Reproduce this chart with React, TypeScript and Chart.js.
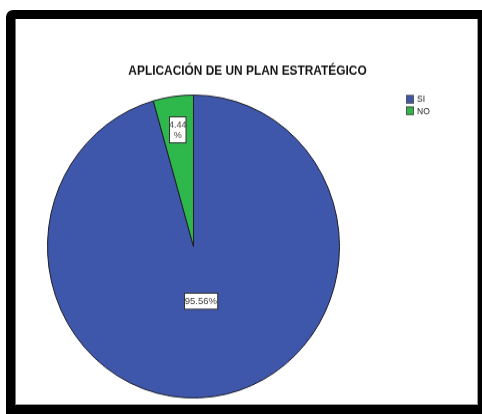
import React, { useEffect, useRef } from "react";
import { Chart, registerables } from "chart.js";

Chart.register(...registerables);

const categories = ["SI", "NO"];
const percentages = [95.56, 4.44];
const sliceColors = ["#3E57AB", "#2EB84B"];
const titleText = "APLICACIÓN DE UN PLAN ESTRATÉGICO";

const W = 482;
const H = 414;
const CY = 246.5;
const SY = 1.0375;
const pre = (y: number) => CY + (y - CY) / SY;

const overlayPlugin = {
  id: "overlay",
  afterDraw(chart: any) {
    const ctx = chart.ctx;
    ctx.save();
    // title
    ctx.font = "bold 11.9px 'Liberation Sans', Arial, sans-serif";
    ctx.fillStyle = "#111";
    ctx.textAlign = "center";
    ctx.textBaseline = "middle";
    ctx.fillText(titleText, 247.5, pre(71));

    // legend
    ctx.font = "8.5px 'Liberation Sans', Arial, sans-serif";
    ctx.textAlign = "left";
    categories.forEach((c, i) => {
      const yTop = pre(95 + i * 11.5);
      const h = 8.5 / SY;
      ctx.fillStyle = sliceColors[i];
      ctx.fillRect(406, yTop, 7.5, h);
      ctx.strokeStyle = "#555";
      ctx.lineWidth = 1;
      ctx.strokeRect(406.5, yTop + 0.5, 7, h - 1);
      ctx.fillStyle = "#222";
      ctx.fillText(c, 417, yTop + h / 2 + 0.5);
    });

    // data labels
    const meta = chart.getDatasetMeta(0);
    ctx.textAlign = "center";
    meta.data.forEach((arc: any, i: number) => {
      const p = arc.getProps(["x", "y", "startAngle", "endAngle", "outerRadius"], true);
      const mid = (p.startAngle + p.endAngle) / 2;
      const v = percentages[i];
      const small = v < 10;
      ctx.font = (small ? "9px" : "9.5px") + " 'Liberation Sans', Arial, sans-serif";
      const frac = small ? 0.78 : 0.36;
      const px = p.x + Math.cos(mid) * p.outerRadius * frac;
      const py = p.y + Math.sin(mid) * p.outerRadius * frac;
      const lines = small ? [v.toFixed(2), "%"] : [v.toFixed(2) + "%"];
      const lh = 10 / SY;
      const tw = Math.max(...lines.map((l) => ctx.measureText(l).width));
      const bw = small ? tw - 1 : tw + 1;
      const bh = lines.length * lh + 6 / SY;
      const bx = Math.round(px - bw / 2) + 0.5;
      const by = Math.round(py - bh / 2) + 0.5;
      ctx.fillStyle = "#fff";
      ctx.fillRect(bx, by, bw, bh);
      ctx.strokeStyle = "#333";
      ctx.lineWidth = 1;
      ctx.strokeRect(bx, by, bw, bh);
      ctx.fillStyle = "#444";
      ctx.textBaseline = "middle";
      lines.forEach((l, k) => {
        const ly = py - ((lines.length - 1) * lh) / 2 + k * lh;
        ctx.fillText(l, px, ly + 0.5);
      });
    });
    ctx.restore();
  },
};

export default function App() {
  const ref = useRef<HTMLCanvasElement | null>(null);
  useEffect(() => {
    if (!ref.current) return;
    const chart = new Chart(ref.current, {
      type: "pie",
      data: {
        labels: categories,
        datasets: [
          {
            data: percentages,
            backgroundColor: sliceColors,
            borderColor: "#1d1d2a",
            borderWidth: 1,
          },
        ],
      },
      options: {
        animation: false,
        responsive: false,
        devicePixelRatio: 1,
        layout: { padding: { left: 47, right: 142, top: 100, bottom: 21 } },
        plugins: {
          legend: { display: false },
          title: { display: false },
          tooltip: { enabled: false },
        },
        events: [],
      },
      plugins: [overlayPlugin],
    });
    return () => chart.destroy();
  }, []);

  return (
    <div>
      <div
        style={{
          position: "absolute",
          left: 6,
          top: 10,
          width: 476,
          height: 404,
          background: "#000",
          borderTopLeftRadius: 7,
        }}
      />
      <div
        style={{
          position: "absolute",
          left: 15,
          top: 19,
          width: 463,
          height: 386,
          background: "#fff",
          boxSizing: "border-box",
          borderRight: "1px solid #999",
          borderBottom: "1px solid #999",
          borderLeft: "1px solid #777",
        }}
      />
      <canvas
        ref={ref}
        width={W}
        height={H}
        style={{
          position: "absolute",
          left: 0,
          top: 0,
          width: W,
          height: H,
          transform: `scaleY(${SY})`,
          transformOrigin: `0px ${CY}px`,
        }}
      />
    </div>
  );
}
